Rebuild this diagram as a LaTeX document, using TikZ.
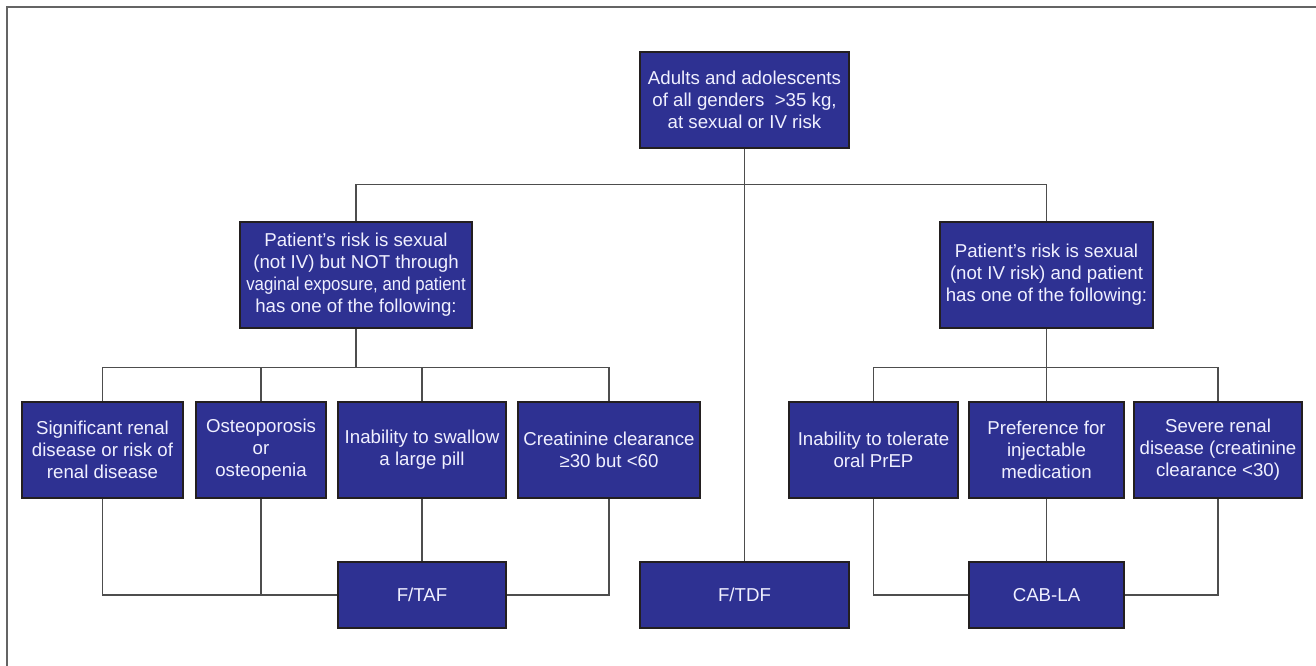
\documentclass[tikz,border=0pt]{standalone}
\usepackage{fontspec}
\setmainfont{Liberation Sans}
\definecolor{boxblue}{RGB}{46,49,146}
\definecolor{boxedge}{RGB}{35,31,32}
\definecolor{linkgray}{RGB}{77,77,77}
\definecolor{framegray}{RGB}{100,100,100}
\begin{document}
\begin{tikzpicture}[x=0.75pt, y=-0.75pt, font=\fontsize{14}{16.5}\selectfont,
    box/.style={draw=boxedge, line width=0.8pt, fill=boxblue, text=white!94!blue,
        align=center, inner sep=0pt, minimum height=72pt},
    link/.style={draw=linkgray, line width=1pt}]
    \useasboundingbox (0,0) rectangle (1316,666);
    \draw[framegray, line width=1.5pt] (6.5,670) -- (6.5,7.5) -- (1320,7.5);
    \node[box, minimum width=156.75pt] (top) at (744.5,100) {Adults and adolescents\\of all genders~ >35 kg,\\at sexual or IV risk};
    \node[box, minimum width=174pt, minimum height=79.5pt] (lmid) at (356,275) {Patient’s risk is sexual\\(not IV) but NOT through\\\scalebox{0.9}[1]{vaginal exposure, and patient}\\has one of the following:};
    \node[box, minimum width=159.75pt, minimum height=79.5pt] (rmid) at (1046.5,275) {Patient’s risk is sexual\\(not IV risk) and patient\\has one of the following:};
    \node[box, minimum width=120.75pt] (renal) at (102.5,450) {Significant renal\\disease or risk of\\renal disease};
    \node[box, minimum width=97.5pt] (osteo) at (261,450) {Osteoporosis\\or\\osteopenia};
    \node[box, minimum width=126pt] (swallow) at (422,450) {Inability to swallow\\a large pill};
    \node[box, minimum width=136.5pt] (creat) at (609,450) {Creatinine clearance\\≥30 but <60};
    \node[box, minimum width=126.75pt] (tolerate) at (873.5,450) {Inability to tolerate\\oral PrEP};
    \node[box, minimum width=116.25pt] (inject) at (1046.5,450) {Preference for\\injectable\\medication};
    \node[box, minimum width=126pt] (severe) at (1218,450) {Severe renal\\disease (creatinine\\clearance <30)};
    \node[box, minimum width=126pt, minimum height=49.5pt] (taf) at (422,595) {F/TAF};
    \node[box, minimum width=156.75pt, minimum height=49.5pt] (tdf) at (744.5,595) {F/TDF};
    \node[box, minimum width=116.25pt, minimum height=49.5pt] (cab) at (1046.5,595) {CAB-LA};

    \draw[link] (top.south) -- (tdf.north);
    \draw[link] (lmid.north) -- ++(0,-37) -| (rmid.north);

    \draw[link] (lmid.south) -- ++(0,39) coordinate (ljoin);
    \draw[link] (renal.north) |- (ljoin) -| (creat.north);
    \draw[link] (osteo.north) -- (osteo.north |- ljoin);
    \draw[link] (swallow.north) -- (swallow.north |- ljoin);
    \draw[link] (renal.south) |- (taf.west);
    \draw[link] (osteo.south) -- (osteo.south |- taf.west);
    \draw[link] (swallow.south) -- (taf.north);
    \draw[link] (creat.south) |- (taf.east);

    \draw[link] (rmid.south) -- ++(0,39) coordinate (rjoin);
    \draw[link] (tolerate.north) |- (rjoin) -| (severe.north);
    \draw[link] (inject.north) -- (rjoin);
    \draw[link] (tolerate.south) |- (cab.west);
    \draw[link] (inject.south) -- (cab.north);
    \draw[link] (severe.south) |- (cab.east);
\end{tikzpicture}
\end{document}
